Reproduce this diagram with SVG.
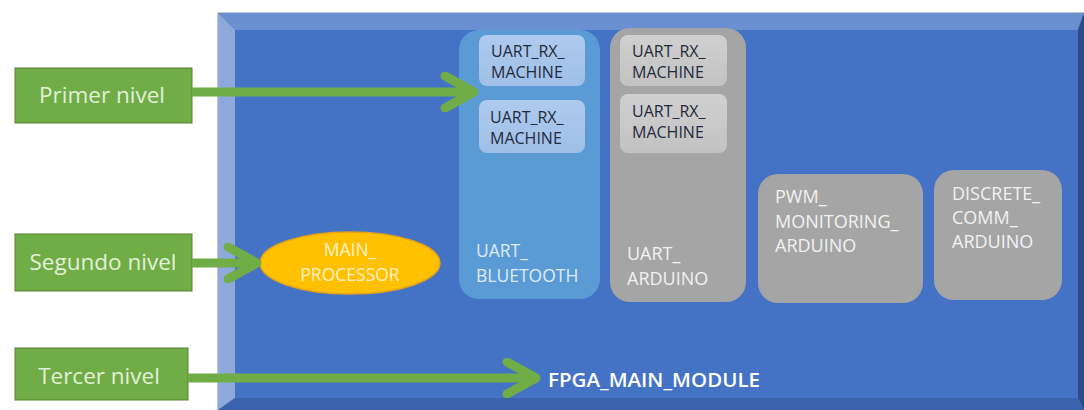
<svg xmlns="http://www.w3.org/2000/svg" width="1084" height="410" viewBox="0 0 1084 410">
<defs>
<style>
.lvl{fill:#70AD47;stroke:#548235;stroke-width:1}
.lvlt{font-family:"Open Sans","Liberation Sans",sans-serif;font-size:22.5px;fill:#E2F0D9;text-anchor:middle}
.conn{stroke:#70AD47;stroke-width:9;fill:none;marker-end:url(#chev)}
.t{font-family:"Open Sans","Liberation Sans",sans-serif}
.sub{font-size:16px;fill:#1F2A3C}
.lab{font-size:18px;fill:#F2F2F2}
.blab{font-size:17.5px;fill:#DEEBF7}
.gbox{fill:#A5A5A5}
</style>
<marker id="chev" markerUnits="userSpaceOnUse" viewBox="0 0 40 40" markerWidth="40" markerHeight="40" refX="34" refY="20" orient="auto">
<path d="M5,4 L34,20 L5,36" fill="none" stroke="#70AD47" stroke-width="9" stroke-linecap="round" stroke-linejoin="round"/>
</marker>
<linearGradient id="gin" x1="0" y1="0" x2="0" y2="1"><stop offset="0" stop-color="#D0D0D0"/><stop offset="1" stop-color="#C2C2C2"/></linearGradient>
<linearGradient id="bin" x1="0" y1="0" x2="0" y2="1"><stop offset="0" stop-color="#AECBEE"/><stop offset="1" stop-color="#9FBFE6"/></linearGradient>
</defs>
<rect width="1084" height="410" fill="#FFFFFF"/>
<g id="fpga_main_module">
<polygon points="218,13 1084,13 1084,410 218,410" fill="#4472C4" stroke="#7F8FA6" stroke-width="1"/>
<polygon points="218,13 1084,13 1078,30 235,30" fill="#6B90D2"/>
<polygon points="218,13 235,30 235,398 218,410" fill="#8EAADB"/>
<polygon points="218,410 235,398 1078,398 1084,410" fill="#3A62AD"/>
<polygon points="1084,13 1078,30 1078,398 1084,410" fill="#2C4C88"/>
<rect x="235" y="30" width="843" height="368" fill="#4472C4"/>
<text class="t" x="548" y="387" font-size="20.5" font-weight="600" fill="#FFFFFF">FPGA_MAIN_MODULE</text>
</g>
<g id="uart_bluetooth">
<rect x="459" y="30" width="141" height="269" rx="20" fill="#5B9BD5"/>
<text class="t blab" x="476" y="257">UART_</text>
<text class="t blab" x="476" y="282">BLUETOOTH</text>
</g>
<g id="bt_rx1">
<rect x="479" y="35" width="106" height="51" rx="8" fill="url(#bin)"/>
<text class="t sub" x="491" y="57">UART_RX_</text>
<text class="t sub" x="491" y="78">MACHINE</text>
</g>
<g id="bt_rx2">
<rect x="479" y="100" width="106" height="53" rx="8" fill="url(#bin)"/>
<text class="t sub" x="490" y="123">UART_RX_</text>
<text class="t sub" x="490" y="144">MACHINE</text>
</g>
<g id="uart_arduino">
<rect x="610" y="28" width="136" height="274" rx="20" class="gbox"/>
<text class="t lab" x="627" y="260">UART_</text>
<text class="t lab" x="627" y="285">ARDUINO</text>
</g>
<g id="ard_rx1">
<rect x="620" y="35" width="107" height="51" rx="8" fill="url(#gin)"/>
<text class="t sub" x="632" y="57">UART_RX_</text>
<text class="t sub" x="632" y="78">MACHINE</text>
</g>
<g id="ard_rx2">
<rect x="620" y="94" width="107" height="59" rx="8" fill="url(#gin)"/>
<text class="t sub" x="632" y="117">UART_RX_</text>
<text class="t sub" x="632" y="138">MACHINE</text>
</g>
<g id="pwm_monitoring_arduino">
<rect x="758" y="174" width="165" height="129" rx="20" class="gbox"/>
<text class="t lab" x="775" y="203">PWM_</text>
<text class="t lab" x="775" y="228">MONITORING_</text>
<text class="t lab" x="775" y="252">ARDUINO</text>
</g>
<g id="discrete_comm_arduino">
<rect x="934" y="170" width="128" height="130" rx="20" class="gbox"/>
<text class="t lab" x="952" y="200">DISCRETE_</text>
<text class="t lab" x="952" y="224">COMM_</text>
<text class="t lab" x="952" y="248">ARDUINO</text>
</g>
<g id="main_processor">
<ellipse cx="350" cy="263" rx="90" ry="31" fill="#FFC000" stroke="#E3A21A" stroke-width="1.5"/>
<text class="t" x="350" y="256" font-size="17.5" fill="#FFF2CC" text-anchor="middle">MAIN_</text>
<text class="t" x="350" y="281" font-size="17.5" fill="#FFF2CC" text-anchor="middle">PROCESSOR</text>
</g>
<g id="primer_nivel">
<rect x="15" y="68" width="177" height="55" class="lvl"/>
<text class="lvlt" x="102" y="103">Primer nivel</text>
</g>
<g id="segundo_nivel">
<rect x="15" y="234" width="177" height="57" class="lvl"/>
<text class="lvlt" x="103" y="270">Segundo nivel</text>
</g>
<g id="tercer_nivel">
<rect x="15" y="348" width="173" height="52" class="lvl"/>
<text class="lvlt" x="99" y="384">Tercer nivel</text>
</g>
<g id="connectors">
<line x1="192" y1="92" x2="474" y2="92" class="conn"/>
<line x1="192" y1="263" x2="257" y2="263" class="conn"/>
<line x1="188" y1="378" x2="536" y2="378" class="conn"/>
</g>
</svg>
